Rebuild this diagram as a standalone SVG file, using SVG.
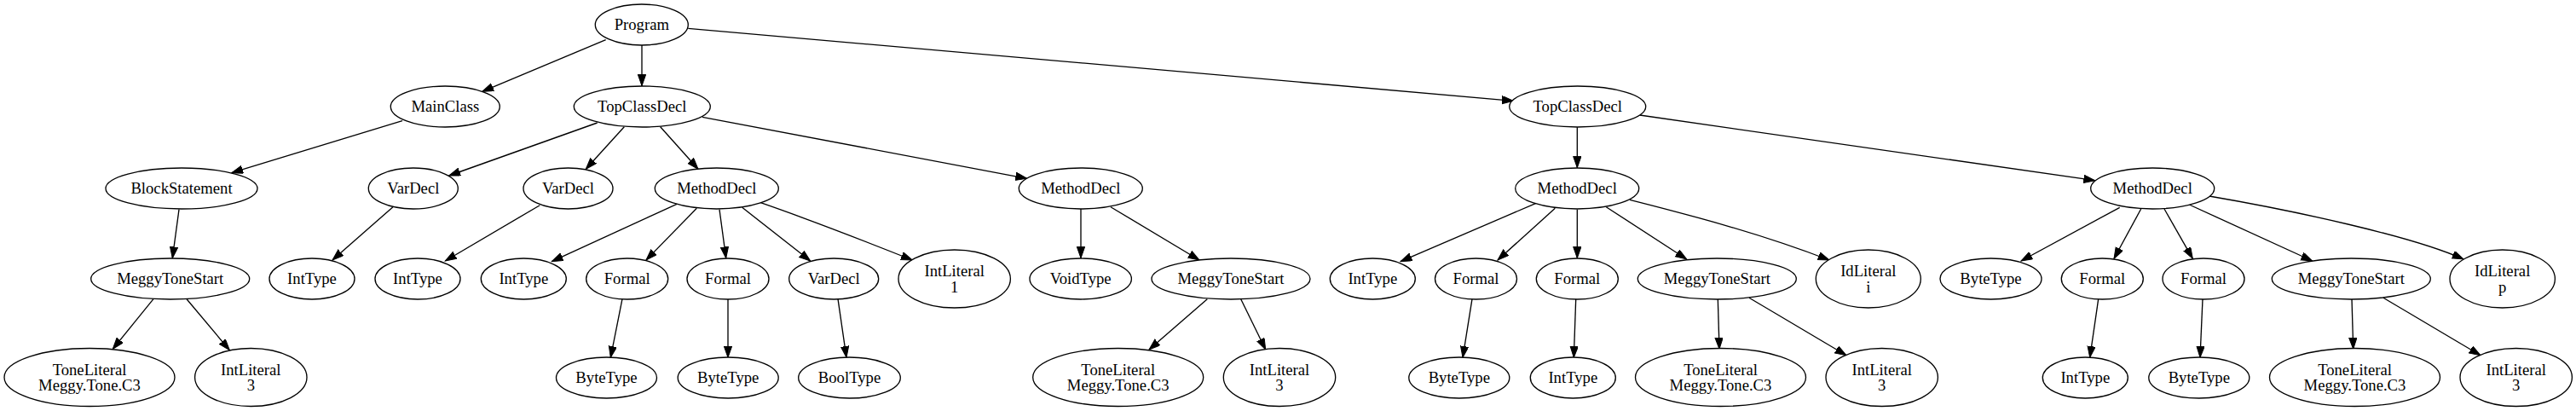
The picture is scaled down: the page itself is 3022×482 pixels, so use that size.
<svg xmlns="http://www.w3.org/2000/svg" width="3022" height="482" viewBox="0 0 3022 482">
<style>
.n ellipse{fill:#fff;stroke:#000;stroke-width:1.33}
.n text{font-family:"Liberation Serif","Times New Roman",serif;font-size:18.67px;text-anchor:middle;fill:#000}
#edges line,#edges path{stroke:#000;stroke-width:1.33;fill:none;marker-end:url(#ah)}
</style>
<defs>
<marker id="ah" markerUnits="userSpaceOnUse" markerWidth="16" markerHeight="12" refX="13.3" refY="4.67" orient="auto">
<path d="M0,0 L13.3,4.67 L0,9.33 z" fill="#000" stroke="#000" stroke-width="1"/>
</marker>
</defs>
<rect width="3022" height="482" fill="#fff"/>
<g id="edges">
<line x1="710.7" y1="46.7" x2="565.7" y2="107.3"/>
<line x1="753" y1="52.7" x2="753" y2="100.7"/>
<line x1="807.3" y1="33.3" x2="1775.3" y2="118.3"/>
<line x1="472" y1="141.7" x2="271.7" y2="202.7"/>
<line x1="700.7" y1="144" x2="526.7" y2="206"/>
<line x1="732.3" y1="148.7" x2="687.3" y2="198.3"/>
<line x1="774.7" y1="148.7" x2="819" y2="198.3"/>
<line x1="824" y1="137.3" x2="1204.7" y2="209.3"/>
<line x1="1850.3" y1="149.3" x2="1850.3" y2="196.7"/>
<line x1="1923.7" y1="135" x2="2457.7" y2="211.7"/>
<line x1="210" y1="245.7" x2="202.3" y2="302.7"/>
<line x1="461" y1="242.7" x2="390" y2="305"/>
<line x1="633.3" y1="240.7" x2="522.3" y2="306"/>
<line x1="794" y1="239.3" x2="647.3" y2="306.7"/>
<line x1="817.3" y1="244.3" x2="758" y2="305"/>
<line x1="844" y1="245.7" x2="851.7" y2="302.7"/>
<line x1="870.7" y1="243.3" x2="950.7" y2="306"/>
<path d="M892.3,237.7 C951,258 1010,281 1070.3,305"/>
<line x1="1268" y1="245" x2="1268" y2="302.7"/>
<line x1="1303" y1="242.7" x2="1407" y2="305"/>
<line x1="1802" y1="238.3" x2="1643" y2="306.7"/>
<line x1="1824.3" y1="244.3" x2="1757" y2="305"/>
<line x1="1850.3" y1="245.7" x2="1850.3" y2="302.7"/>
<line x1="1884.3" y1="242.7" x2="1978.7" y2="304"/>
<path d="M1912,234.3 C1990,254 2068,275 2146,305"/>
<line x1="2486.7" y1="243.3" x2="2371" y2="306"/>
<line x1="2511.7" y1="245" x2="2480" y2="303.3"/>
<line x1="2539" y1="245" x2="2572.3" y2="303.3"/>
<line x1="2568.3" y1="240" x2="2712.7" y2="306"/>
<path d="M2591.7,230 C2691,247 2830,277 2890,304"/>
<line x1="180" y1="350.7" x2="132.3" y2="409.3"/>
<line x1="219" y1="350.7" x2="269.3" y2="410.7"/>
<line x1="730" y1="350.7" x2="716.3" y2="419.3"/>
<line x1="854" y1="350.7" x2="854" y2="419.3"/>
<line x1="983" y1="350.7" x2="993" y2="419.3"/>
<line x1="1416.3" y1="350.7" x2="1348" y2="410"/>
<line x1="1455.7" y1="350.7" x2="1484.7" y2="410"/>
<line x1="1727" y1="350.7" x2="1716" y2="419.3"/>
<line x1="1848.7" y1="350.7" x2="1846.3" y2="419.3"/>
<line x1="2015.3" y1="350.7" x2="2017" y2="409.3"/>
<line x1="2052" y1="349.3" x2="2166" y2="416.7"/>
<line x1="2461.7" y1="350.7" x2="2451.7" y2="419.3"/>
<line x1="2584" y1="350.7" x2="2581" y2="419.3"/>
<line x1="2759" y1="350.7" x2="2760.7" y2="409.3"/>
<line x1="2796" y1="349.3" x2="2910" y2="416.7"/>
</g>
<g id="n0" class="n"><ellipse cx="752.8" cy="29" rx="54.5" ry="24"/><text x="752.8" y="34.6">Program</text></g>
<g id="n1" class="n"><ellipse cx="522.3" cy="125" rx="64" ry="24"/><text x="522.3" y="130.6">MainClass</text></g>
<g id="n2" class="n"><ellipse cx="753.3" cy="125" rx="80" ry="24"/><text x="753.3" y="130.6">TopClassDecl</text></g>
<g id="n3" class="n"><ellipse cx="1850.7" cy="125" rx="80" ry="24"/><text x="1850.7" y="130.6">TopClassDecl</text></g>
<g id="n4" class="n"><ellipse cx="213" cy="221" rx="89" ry="24"/><text x="213" y="226.6">BlockStatement</text></g>
<g id="n5" class="n"><ellipse cx="484.8" cy="221" rx="52.5" ry="24"/><text x="484.8" y="226.6">VarDecl</text></g>
<g id="n6" class="n"><ellipse cx="666.5" cy="221" rx="52.5" ry="24"/><text x="666.5" y="226.6">VarDecl</text></g>
<g id="n7" class="n"><ellipse cx="840.8" cy="221" rx="72.5" ry="24"/><text x="840.8" y="226.6">MethodDecl</text></g>
<g id="n8" class="n"><ellipse cx="1267.8" cy="221" rx="72.5" ry="24"/><text x="1267.8" y="226.6">MethodDecl</text></g>
<g id="n9" class="n"><ellipse cx="1850.2" cy="221" rx="72.5" ry="24"/><text x="1850.2" y="226.6">MethodDecl</text></g>
<g id="n10" class="n"><ellipse cx="2525.2" cy="221" rx="72.5" ry="24"/><text x="2525.2" y="226.6">MethodDecl</text></g>
<g id="n11" class="n"><ellipse cx="199.7" cy="327" rx="93" ry="24"/><text x="199.7" y="332.6">MeggyToneStart</text></g>
<g id="n12" class="n"><ellipse cx="366" cy="327" rx="50" ry="24"/><text x="366" y="332.6">IntType</text></g>
<g id="n13" class="n"><ellipse cx="490" cy="327" rx="50" ry="24"/><text x="490" y="332.6">IntType</text></g>
<g id="n14" class="n"><ellipse cx="614.3" cy="327" rx="50" ry="24"/><text x="614.3" y="332.6">IntType</text></g>
<g id="n15" class="n"><ellipse cx="735.7" cy="327" rx="48" ry="24"/><text x="735.7" y="332.6">Formal</text></g>
<g id="n16" class="n"><ellipse cx="854" cy="327" rx="48" ry="24"/><text x="854" y="332.6">Formal</text></g>
<g id="n17" class="n"><ellipse cx="978.2" cy="327" rx="52.5" ry="24"/><text x="978.2" y="332.6">VarDecl</text></g>
<g id="n18" class="n"><ellipse cx="1119.7" cy="327" rx="65.7" ry="34"/><text x="1119.7" y="324">IntLiteral</text><text x="1119.7" y="342.5">1</text></g>
<g id="n19" class="n"><ellipse cx="1267.7" cy="327" rx="59.7" ry="24"/><text x="1267.7" y="332.6">VoidType</text></g>
<g id="n20" class="n"><ellipse cx="1444" cy="327" rx="93" ry="24"/><text x="1444" y="332.6">MeggyToneStart</text></g>
<g id="n21" class="n"><ellipse cx="1610.3" cy="327" rx="50" ry="24"/><text x="1610.3" y="332.6">IntType</text></g>
<g id="n22" class="n"><ellipse cx="1731.5" cy="327" rx="48" ry="24"/><text x="1731.5" y="332.6">Formal</text></g>
<g id="n23" class="n"><ellipse cx="1850.3" cy="327" rx="48" ry="24"/><text x="1850.3" y="332.6">Formal</text></g>
<g id="n24" class="n"><ellipse cx="2014.3" cy="327" rx="93" ry="24"/><text x="2014.3" y="332.6">MeggyToneStart</text></g>
<g id="n25" class="n"><ellipse cx="2191.8" cy="327" rx="61.5" ry="34"/><text x="2191.8" y="324">IdLiteral</text><text x="2191.8" y="342.5">i</text></g>
<g id="n26" class="n"><ellipse cx="2335.5" cy="327" rx="59.5" ry="24"/><text x="2335.5" y="332.6">ByteType</text></g>
<g id="n27" class="n"><ellipse cx="2466.3" cy="327" rx="48" ry="24"/><text x="2466.3" y="332.6">Formal</text></g>
<g id="n28" class="n"><ellipse cx="2585" cy="327" rx="48" ry="24"/><text x="2585" y="332.6">Formal</text></g>
<g id="n29" class="n"><ellipse cx="2758.3" cy="327" rx="93" ry="24"/><text x="2758.3" y="332.6">MeggyToneStart</text></g>
<g id="n30" class="n"><ellipse cx="2935.7" cy="327" rx="61.7" ry="34"/><text x="2935.7" y="324">IdLiteral</text><text x="2935.7" y="342.5">p</text></g>
<g id="n31" class="n"><ellipse cx="105" cy="442.5" rx="100" ry="34"/><text x="105" y="439.5">ToneLiteral</text><text x="105" y="458">Meggy.Tone.C3</text></g>
<g id="n32" class="n"><ellipse cx="294.3" cy="442.5" rx="65.7" ry="34"/><text x="294.3" y="439.5">IntLiteral</text><text x="294.3" y="458">3</text></g>
<g id="n33" class="n"><ellipse cx="711.5" cy="443" rx="59" ry="24"/><text x="711.5" y="448.6">ByteType</text></g>
<g id="n34" class="n"><ellipse cx="854.2" cy="443" rx="59" ry="24"/><text x="854.2" y="448.6">ByteType</text></g>
<g id="n35" class="n"><ellipse cx="996.5" cy="443" rx="59.8" ry="24"/><text x="996.5" y="448.6">BoolType</text></g>
<g id="n36" class="n"><ellipse cx="1311.7" cy="442.5" rx="100" ry="34"/><text x="1311.7" y="439.5">ToneLiteral</text><text x="1311.7" y="458">Meggy.Tone.C3</text></g>
<g id="n37" class="n"><ellipse cx="1501" cy="442.5" rx="65.7" ry="34"/><text x="1501" y="439.5">IntLiteral</text><text x="1501" y="458">3</text></g>
<g id="n38" class="n"><ellipse cx="1711.8" cy="443" rx="59" ry="24"/><text x="1711.8" y="448.6">ByteType</text></g>
<g id="n39" class="n"><ellipse cx="1845.3" cy="443" rx="50" ry="24"/><text x="1845.3" y="448.6">IntType</text></g>
<g id="n40" class="n"><ellipse cx="2018.5" cy="442.5" rx="100" ry="34"/><text x="2018.5" y="439.5">ToneLiteral</text><text x="2018.5" y="458">Meggy.Tone.C3</text></g>
<g id="n41" class="n"><ellipse cx="2207.7" cy="442.5" rx="65.7" ry="34"/><text x="2207.7" y="439.5">IntLiteral</text><text x="2207.7" y="458">3</text></g>
<g id="n42" class="n"><ellipse cx="2446.3" cy="443" rx="50" ry="24"/><text x="2446.3" y="448.6">IntType</text></g>
<g id="n43" class="n"><ellipse cx="2579.8" cy="443" rx="59" ry="24"/><text x="2579.8" y="448.6">ByteType</text></g>
<g id="n44" class="n"><ellipse cx="2762.5" cy="442.5" rx="100" ry="34"/><text x="2762.5" y="439.5">ToneLiteral</text><text x="2762.5" y="458">Meggy.Tone.C3</text></g>
<g id="n45" class="n"><ellipse cx="2951.7" cy="442.5" rx="65.7" ry="34"/><text x="2951.7" y="439.5">IntLiteral</text><text x="2951.7" y="458">3</text></g>
</svg>
